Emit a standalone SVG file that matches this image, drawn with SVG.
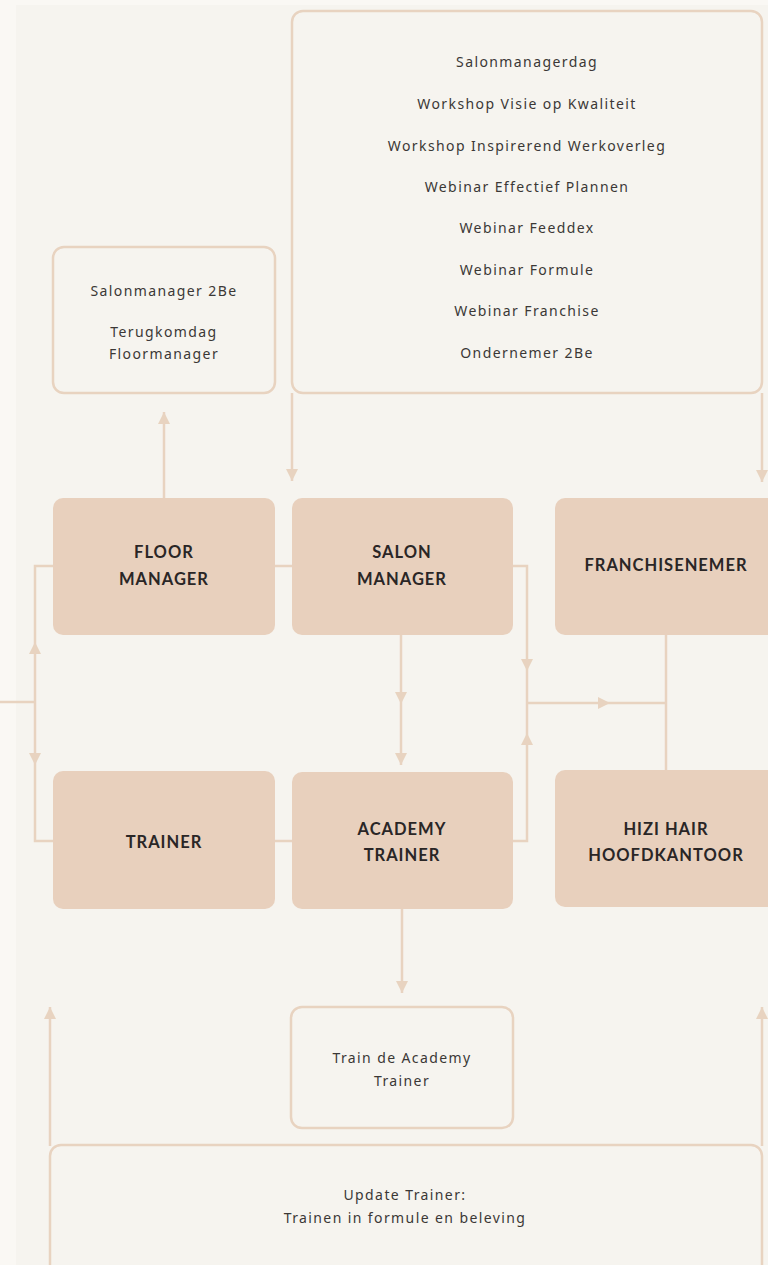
<svg xmlns="http://www.w3.org/2000/svg" width="768" height="1265" viewBox="0 0 768 1265">
<defs>
<style>
.bg{fill:#faf8f4}
.panel{fill:#f6f4ef}
.solid{fill:#e8d0bd;stroke:none}
.outline{fill:#f6f4ef;stroke:#e8d3c0;stroke-width:2.5}
.c{fill:none;stroke:#e8d3c0;stroke-width:2.5}
.t{font-family:"Noto Sans","Liberation Sans",sans-serif;font-size:14px;letter-spacing:1.4px;fill:#3b3836;text-anchor:middle}
.b{font-family:Lato,"Liberation Sans",sans-serif;font-weight:bold;font-size:16.5px;letter-spacing:1px;fill:#2a2626;text-anchor:middle}
</style>
<marker id="ah" viewBox="0 0 12 12" refX="12" refY="6" markerWidth="12" markerHeight="12" markerUnits="userSpaceOnUse" orient="auto">
<path d="M0,0 L12,6 L0,12 Z" fill="#e8d3c0"/>
</marker>
</defs>
<rect class="bg" x="0" y="0" width="768" height="1265"/>
<rect class="panel" x="16" y="5" width="752" height="1260"/>

<g id="connectors">
<path class="c" d="M0,702 H35"/>
<path class="c" d="M35,702 V642" marker-end="url(#ah)"/>
<path class="c" d="M35,642 V566 H53"/>
<path class="c" d="M35,702 V765" marker-end="url(#ah)"/>
<path class="c" d="M35,765 V841 H53"/>
<path class="c" d="M164,498 V412" marker-end="url(#ah)"/>
<path class="c" d="M275,566 H292"/>
<path class="c" d="M275,841 H292"/>
<path class="c" d="M292,393 V481" marker-end="url(#ah)"/>
<path class="c" d="M762,393 V482" marker-end="url(#ah)"/>
<path class="c" d="M513,566 H527 V671" marker-end="url(#ah)"/>
<path class="c" d="M527,671 V703"/>
<path class="c" d="M513,841 H527 V733" marker-end="url(#ah)"/>
<path class="c" d="M527,733 V703"/>
<path class="c" d="M527,703 H610" marker-end="url(#ah)"/>
<path class="c" d="M610,703 H666"/>
<path class="c" d="M666,635 V771"/>
<path class="c" d="M401,635 V704" marker-end="url(#ah)"/>
<path class="c" d="M401,704 V765" marker-end="url(#ah)"/>
<path class="c" d="M402,909 V993" marker-end="url(#ah)"/>
<path class="c" d="M50,1146 V1007" marker-end="url(#ah)"/>
<path class="c" d="M762,1146 V1007" marker-end="url(#ah)"/>
</g>

<g id="trainingen">
<rect class="outline" x="292" y="11" width="470" height="382" rx="11"/>
<text class="t" x="527" y="67">Salonmanagerdag</text>
<text class="t" x="527" y="109">Workshop Visie op Kwaliteit</text>
<text class="t" x="527" y="151">Workshop Inspirerend Werkoverleg</text>
<text class="t" x="527" y="192">Webinar Effectief Plannen</text>
<text class="t" x="527" y="233">Webinar Feeddex</text>
<text class="t" x="527" y="275">Webinar Formule</text>
<text class="t" x="527" y="316">Webinar Franchise</text>
<text class="t" x="527" y="358">Ondernemer 2Be</text>
</g>

<g id="floormanager-trainingen">
<rect class="outline" x="53" y="247" width="222" height="146" rx="11"/>
<text class="t" x="164" y="296">Salonmanager 2Be</text>
<text class="t" x="164" y="337">Terugkomdag</text>
<text class="t" x="164" y="359">Floormanager</text>
</g>

<g id="floor-manager">
<rect class="solid" x="53" y="498" width="222" height="137" rx="10"/>
<text class="b" x="164" y="558">FLOOR</text>
<text class="b" x="164" y="585">MANAGER</text>
</g>

<g id="salon-manager">
<rect class="solid" x="292" y="498" width="221" height="137" rx="10"/>
<text class="b" x="402" y="558">SALON</text>
<text class="b" x="402" y="585">MANAGER</text>
</g>

<g id="franchisenemer">
<rect class="solid" x="555" y="498" width="225" height="137" rx="10"/>
<text class="b" x="666" y="571">FRANCHISENEMER</text>
</g>

<g id="trainer">
<rect class="solid" x="53" y="771" width="222" height="138" rx="10"/>
<text class="b" x="164" y="848">TRAINER</text>
</g>

<g id="academy-trainer">
<rect class="solid" x="292" y="772" width="221" height="137" rx="10"/>
<text class="b" x="402" y="835">ACADEMY</text>
<text class="b" x="402" y="861">TRAINER</text>
</g>

<g id="hizi-hair">
<rect class="solid" x="555" y="770" width="225" height="137" rx="10"/>
<text class="b" x="666" y="835">HIZI HAIR</text>
<text class="b" x="666" y="861">HOOFDKANTOOR</text>
</g>

<g id="train-de-academy-trainer">
<rect class="outline" x="291" y="1007" width="222" height="121" rx="11"/>
<text class="t" x="402" y="1063">Train de Academy</text>
<text class="t" x="402" y="1086">Trainer</text>
</g>

<g id="update-trainer">
<rect class="outline" x="50" y="1145" width="712" height="135" rx="11"/>
<text class="t" x="405" y="1200">Update Trainer:</text>
<text class="t" x="405" y="1223">Trainen in formule en beleving</text>
</g>
</svg>
